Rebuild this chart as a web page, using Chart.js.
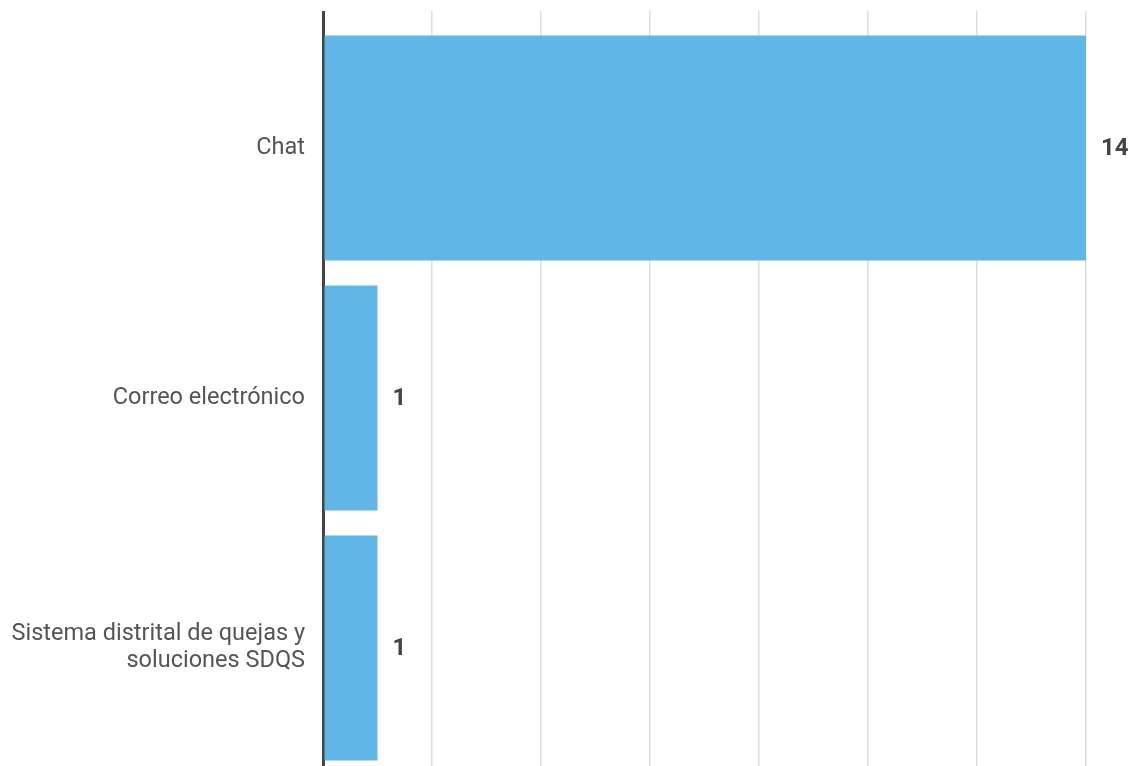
<!DOCTYPE html>
<html>
<head>
<meta charset="utf-8">
<script src="https://cdn.jsdelivr.net/npm/chart.js@4"></script>
<style>
  html, body { margin: 0; padding: 0; background: #fff; overflow: hidden; }
  #wrap { width: 1135px; height: 773px; position: relative; }
</style>
</head>
<body>
<div id="wrap"><canvas id="canalesChart"></canvas></div>
<script>
// Canales de atención
const categories = ["Chat", "Correo electrónico", ["Sistema distrital de quejas y", "soluciones SDQS"]];
const values = [14, 1, 1];
const axisMax = 14;
const axisStep = 2;

// draws the number at the end of each bar
const valueLabels = {
  id: "valueLabels",
  afterDatasetsDraw(chart) {
    const ctx = chart.ctx;
    const meta = chart.getDatasetMeta(0);
    ctx.save();
    ctx.font = "bold 24px Roboto";
    ctx.fillStyle = "#444444";
    ctx.textAlign = "left";
    ctx.textBaseline = "middle";
    meta.data.forEach((bar, i) => {
      ctx.fillText(String(values[i]), bar.x + 15, bar.y + 1);
    });
    ctx.restore();
  }
};

new Chart(document.getElementById("canalesChart"), {
  type: "bar",
  data: {
    labels: categories,
    datasets: [{
      data: values,
      backgroundColor: "#60b6e4",
      borderWidth: 0,
      categoryPercentage: 1,
      barPercentage: 0.9
    }]
  },
  options: {
    indexAxis: "y",
    responsive: true,
    maintainAspectRatio: false,
    animation: false,
    layout: { padding: { top: 11, right: 49, bottom: 0, left: 0 } },
    plugins: {
      legend: { display: false },
      tooltip: { enabled: false }
    },
    scales: {
      x: {
        position: "top",
        min: 0,
        max: axisMax,
        ticks: { display: false, stepSize: axisStep },
        grid: {
          color: (c) => (c.tick && c.tick.value === 0 ? "#444444" : "#dddddd"),
          lineWidth: (c) => (c.tick && c.tick.value === 0 ? 3 : 1.5),
          tickLength: 12
        },
        border: { display: false }
      },
      y: {
        grid: { display: false },
        border: { display: true, color: "#444444", width: 3 },
        ticks: {
          color: "#555555",
          padding: 10,
          font: { family: "Roboto", size: 23.5, lineHeight: 1.15 }
        },
        afterFit(scale) {
          scale.width = 323;
          scale.paddingTop = 0;
          scale.paddingBottom = 0;
        }
      }
    }
  },
  plugins: [valueLabels]
});
</script>
</body>
</html>
